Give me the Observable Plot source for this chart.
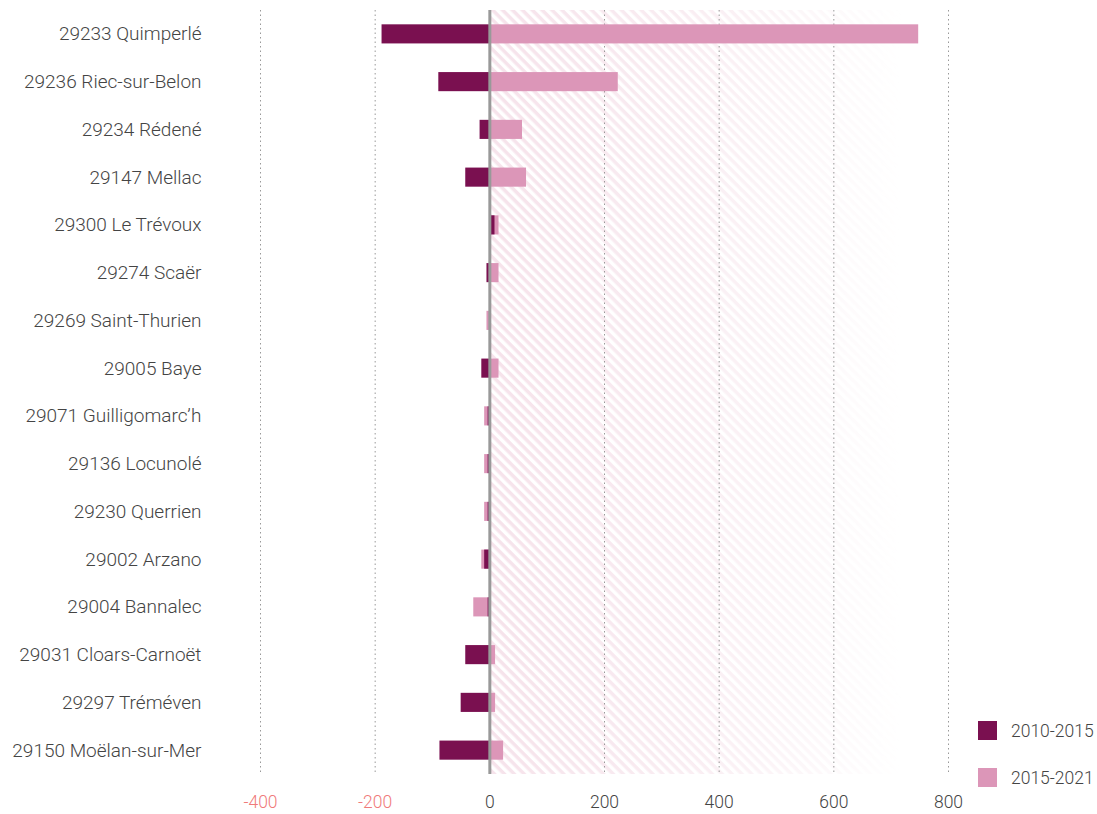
<!DOCTYPE html>
<html>
<head>
<meta charset="utf-8">
<script src="https://cdn.jsdelivr.net/npm/d3@7"></script>
<script src="https://cdn.jsdelivr.net/npm/@observablehq/plot@0.6"></script>
<style>
  body { margin: 0; background: #fff; font-family: Roboto, sans-serif; }
  #wrap { position: relative; width: 1097px; height: 814px; }
  .legend { position: absolute; left: 978px; font: 300 17.5px Roboto, sans-serif; color: #444; }
  .legend div { display: flex; align-items: center; height: 19px; margin-bottom: 28px; }
  .legend span.sw { width: 19px; height: 19px; display: inline-block; margin-right: 14px; }
</style>
</head>
<body>
<div id="wrap"></div>
<script>
const communes = [
  "29233 Quimperlé", "29236 Riec-sur-Belon", "29234 Rédené", "29147 Mellac",
  "29300 Le Trévoux", "29274 Scaër", "29269 Saint-Thurien", "29005 Baye",
  "29071 Guilligomarc’h", "29136 Locunolé", "29230 Querrien", "29002 Arzano",
  "29004 Bannalec", "29031 Cloars-Carnoët", "29297 Tréméven", "29150 Moëlan-sur-Mer"
];
const v2010_2015 = [-188, -89, -17, -42, 9, -5, 0, -14, -3, -3, -3, -9, -3, -42, -50, -87];
const v2015_2021 = [748, 224, 57, 64, 16, 16, -5, 16, -9, -9, -9, -14, -28, 10, 10, 24];
const series = ["2010-2015", "2015-2021"];
const colors = ["#7a1050", "#dc96b8"];
const xTicksNeg = [-400, -200];
const xTicksPos = [0, 200, 400, 600, 800];

const data = communes.map((c, i) => ({commune: c, a: v2010_2015[i], b: v2015_2021[i]}));

const chart = Plot.plot({
  width: 1097,
  height: 814,
  marginTop: 10,
  marginBottom: 40,
  marginLeft: 260,
  marginRight: 149,
  style: {fontFamily: "Roboto, sans-serif", fontWeight: 300, background: "transparent"},
  x: {domain: [-400, 800], axis: null},
  y: {domain: communes, paddingInner: 0.6, paddingOuter: 0.3, round: false, axis: null, label: null},
  marks: [
    Plot.rect([{}], {x1: 0, x2: 720, fill: "url(#hatch)", ariaLabel: "hatch"}),
    Plot.ruleX([...xTicksNeg, ...xTicksPos.slice(1)], {stroke: "#999", strokeWidth: 1, strokeDasharray: "1.5,3"}),
    Plot.barX(data, {y: "commune", x: "b", fill: colors[1]}),
    Plot.barX(data, {y: "commune", x: "a", fill: colors[0]}),
    Plot.ruleX([0], {stroke: "#999", strokeWidth: 3}),
    Plot.axisY({tickSize: 0, tickPadding: 59, fontSize: 19, fill: "#444", label: null}),
    Plot.axisX(xTicksNeg, {tickSize: 0, tickPadding: 21, fontSize: 17.5, fill: "#f07a7a", tickFormat: d => "-" + Math.abs(d), label: null}),
    Plot.axisX(xTicksPos, {tickSize: 0, tickPadding: 21, fontSize: 17.5, fill: "#444", label: null})
  ]
});

d3.select(chart).insert("defs", ":first-child").html(`
  <pattern id="hatch" patternUnits="userSpaceOnUse" width="7" height="7" patternTransform="rotate(45)">
    <rect x="0" y="0" width="7" height="3.5" fill="#f3d9e4"/>
  </pattern>
  <linearGradient id="fadeGrad" x1="0" x2="1" y1="0" y2="0">
    <stop offset="0" stop-color="#fff" stop-opacity="0.75"/>
    <stop offset="0.5" stop-color="#fff" stop-opacity="0.45"/>
    <stop offset="1" stop-color="#fff" stop-opacity="0"/>
  </linearGradient>
  <mask id="fade" maskContentUnits="objectBoundingBox">
    <rect x="0" y="0" width="1" height="1" fill="url(#fadeGrad)"/>
  </mask>
`);
d3.select(chart).selectAll("g").filter(function() {
  return this.getAttribute("aria-label") === "rect" || this.getAttribute("aria-label") === "hatch";
}).filter((d, i) => i === 0).attr("mask", "url(#fade)");

const wrap = document.getElementById("wrap");
wrap.appendChild(chart);

const legend = document.createElement("div");
legend.className = "legend";
legend.style.top = "721px";
series.forEach((s, i) => {
  const row = document.createElement("div");
  const sw = document.createElement("span");
  sw.className = "sw";
  sw.style.background = colors[i];
  row.appendChild(sw);
  row.appendChild(document.createTextNode(s));
  legend.appendChild(row);
});
wrap.appendChild(legend);
</script>
</body>
</html>
